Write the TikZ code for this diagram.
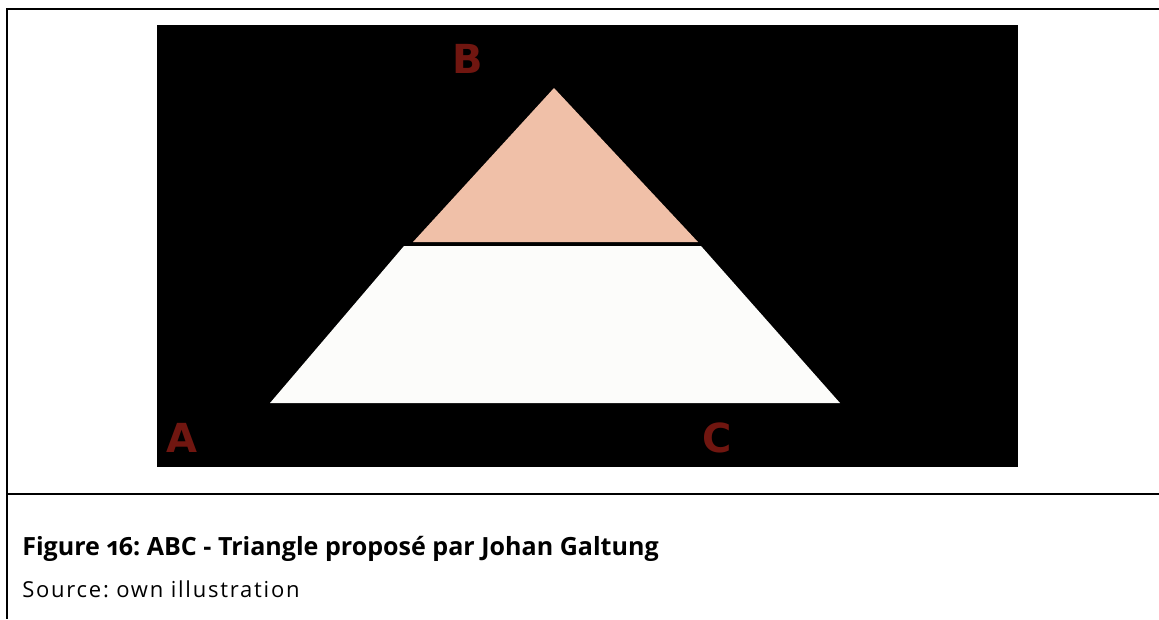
\documentclass[tikz,border=0pt]{standalone}
\usepackage{fontspec}
\setmainfont{Open Sans}[Numbers=OldStyle]
\newfontfamily\sourcefont{Open Sans}[LetterSpace=8]
\newfontfamily\letterfont{DejaVu Sans}
\usepackage{xcolor}
\usepackage{tikz}
\usetikzlibrary{positioning, calc}
\frenchspacing

\definecolor{peach}{RGB}{240,192,168}
\definecolor{offwhite}{RGB}{252,252,250}
\definecolor{letterred}{RGB}{112,22,16}

\tikzset{
    frameline/.style={line width=1.5pt, black},
    corner/.style={font=\letterfont\bfseries\fontsize{30}{30}\selectfont, text=letterred, inner sep=0pt, anchor=base west},
    caption/.style={inner sep=0pt, anchor=base west}
}

\begin{document}
\begin{tikzpicture}[x=0.75pt, y=-0.75pt]

    \useasboundingbox (0,0) rectangle (1159,619);

    % --- Outer Frame ---
    \draw[frameline] (7,8.5) -- (1159,8.5);
    \draw[frameline] (7,8) -- (7,619);
    \draw[frameline] (7,493.5) -- (1159,493.5);

    % --- Black Picture Area ---
    \fill[black] (157,25) rectangle (1018,467);

    % --- Lower Part (white trapezoid) ---
    \fill[offwhite] (270,403) -- (404,246) -- (701,246) -- (840,403) -- cycle;

    % --- Upper Part (peach triangle) ---
    \fill[peach] (413,242) -- (554,88) -- (698,242) -- cycle;

    % --- Corner Letters ---
    \node[corner] (B) at (452,73) {B};
    \node[corner] (A) at (166,452) {A};
    \node[corner] (C) at (702,452) {C};

    % --- Caption ---
    \node[caption, font=\bfseries\fontsize{18.8}{22}\selectfont] (title) at (22,555)
        {Figure 16: ABC - Triangle proposé par Johan Galtung};
    \node[caption, font=\sourcefont\fontsize{16.5}{20}\selectfont] (source) at (22,597)
        {Source: own illustration};

\end{tikzpicture}
\end{document}
